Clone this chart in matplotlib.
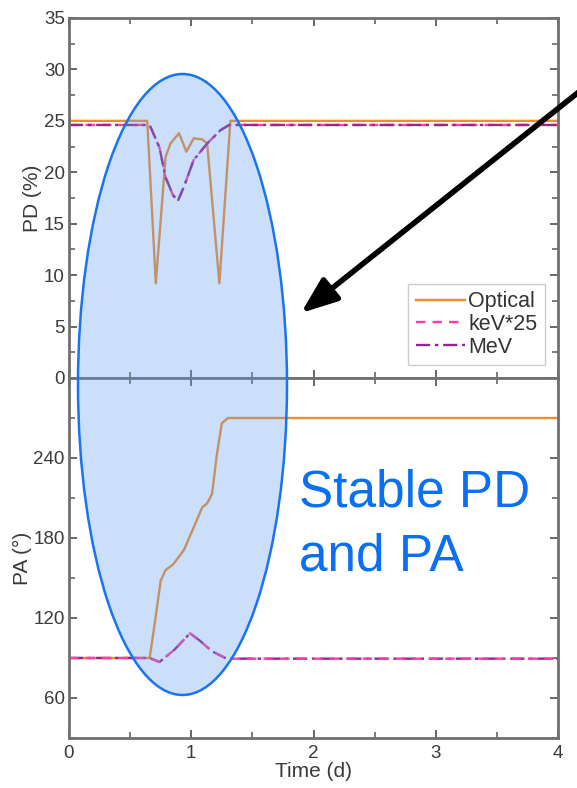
import matplotlib
matplotlib.use("Agg")
import matplotlib.pyplot as plt
from matplotlib.patches import Ellipse, FancyArrowPatch
from matplotlib.ticker import MultipleLocator

plt.rcParams['font.family'] = ['Liberation Sans', 'DejaVu Sans']

# ---- data ----
t_opt_pd = [0, 0.5, 0.64, 0.71, 0.79, 0.83, 0.90, 0.96, 1.02, 1.09, 1.13, 1.23, 1.32, 2, 3, 4]
pd_opt = [25, 25, 25, 9.2, 21.5, 22.8, 23.8, 22.0, 23.3, 23.2, 22.8, 9.2, 25, 25, 25, 25]

t_hi_pd = [0, 0.5, 0.66, 0.74, 0.79, 0.85, 0.89, 0.94, 1.02, 1.13, 1.24, 1.31, 2, 3, 4]
pd_kev = [24.6, 24.6, 24.6, 22.4, 19.5, 17.8, 17.2, 18.6, 21.2, 22.8, 24.1, 24.6, 24.6, 24.6, 24.6]
pd_mev = [24.6, 24.6, 24.6, 22.4, 19.5, 17.8, 17.2, 18.6, 21.2, 22.8, 24.1, 24.6, 24.6, 24.6, 24.6]

t_opt_pa = [0, 0.5, 0.66, 0.70, 0.75, 0.79, 0.85, 0.94, 1.02, 1.09, 1.13, 1.17, 1.21, 1.25, 1.30, 2, 3, 4]
pa_opt = [90, 90, 90, 115, 148, 156, 160, 171, 188, 203, 206, 213, 243, 266, 270, 270, 270, 270]

t_hi_pa = [0, 0.5, 0.66, 0.74, 0.86, 0.99, 1.07, 1.17, 1.29, 2, 3, 4]
pa_kev = [90, 90, 90, 87, 96, 108.5, 103, 95, 89.5, 89.5, 89.5, 89.5]
pa_mev = [90, 90, 90, 87, 96, 108.5, 103, 95, 89.5, 89.5, 89.5, 89.5]

labels = ['Optical', 'keV*25', 'MeV']
c_opt = '#f28c28'
c_kev = '#ff3caa'
c_mev = '#93278f'

W, H = 577, 788
fig = plt.figure(figsize=(W / 100, H / 100), dpi=100)
L, R = 69 / W, 558 / W
ax1 = fig.add_axes([L, 1 - 378 / H, R - L, 360 / H])
ax2 = fig.add_axes([L, 1 - 738 / H, R - L, 360 / H])

ax1.plot(t_opt_pd, pd_opt, color=c_opt, lw=1.7, label=labels[0])
ax1.plot(t_hi_pd, pd_kev, color=c_kev, lw=1.7, ls=(0, (4, 3)), label=labels[1])
ax1.plot(t_hi_pd, pd_mev, color=c_mev, lw=1.7, ls=(0, (6, 2, 1.5, 2)), label=labels[2])

ax2.plot(t_opt_pa, pa_opt, color=c_opt, lw=1.7)
ax2.plot(t_hi_pa, pa_mev, color=c_mev, lw=1.7, ls=(0, (6, 2, 1.5, 2)))
ax2.plot(t_hi_pa, pa_kev, color=c_kev, lw=1.7, ls=(0, (4, 3)))

ax1.set_xlim(0, 4)
ax1.set_ylim(0, 35)
ax2.set_xlim(0, 4)
ax2.set_ylim(30, 300)

ax1.yaxis.set_major_locator(MultipleLocator(5))
ax1.yaxis.set_minor_locator(MultipleLocator(2.5))
ax2.yaxis.set_minor_locator(MultipleLocator(30))
ax2.set_yticks([60, 120, 180, 240])
for ax in (ax1, ax2):
    ax.xaxis.set_major_locator(MultipleLocator(1))
    ax.xaxis.set_minor_locator(MultipleLocator(0.5))
    ax.tick_params(which='both', direction='in', top=True, right=True,
                   colors='#666666', labelcolor='#3a3a3a', labelsize=13.5)
    ax.tick_params(which='major', length=6, width=1.4, pad=3)
    ax.tick_params(which='minor', length=4, width=1.2)
    for s in ax.spines.values():
        s.set_color('#707070')
        s.set_linewidth(2.0)
ax1.tick_params(labelbottom=False)
ax2.tick_params(axis='x', pad=5)

ax1.set_ylabel('PD (%)', fontsize=15, color='#3a3a3a', labelpad=1)
ax2.set_ylabel('PA (°)', fontsize=15, color='#3a3a3a', labelpad=1)
ax2.set_xlabel('Time (d)', fontsize=15, color='#3a3a3a', labelpad=0)

leg = ax1.legend(loc='lower right', fontsize=15.5, frameon=True, fancybox=False,
                 handlelength=2.3, handletextpad=0.15, labelspacing=0.08,
                 borderpad=0.35, borderaxespad=0.6)
leg.get_frame().set_edgecolor('#c0c0c0')
leg.get_frame().set_linewidth(1.0)
for txt in leg.get_texts():
    txt.set_color('#333333')

# ellipse overlay
ell = Ellipse((182.5 / W, 1 - 384.5 / H), 209 / W, 621 / H,
              transform=fig.transFigure, facecolor='#5e9cf0', alpha=0.32,
              edgecolor='none', zorder=10)
fig.add_artist(ell)
ell2 = Ellipse((182.5 / W, 1 - 384.5 / H), 209 / W, 621 / H,
               transform=fig.transFigure, facecolor='none',
               edgecolor='#1a73f0', lw=1.8, zorder=11)
fig.add_artist(ell2)

arrow = FancyArrowPatch((580 / W, 1 - 91 / H), (301 / W, 1 - 313 / H),
                        transform=fig.transFigure,
                        arrowstyle='-|>,head_length=22,head_width=8.5',
                        color='black', lw=4.0, mutation_scale=1, zorder=12,
                        shrinkA=0, shrinkB=0)
fig.add_artist(arrow)

fig.text(299 / W, 1 - 493 / H, 'Stable PD', color='#0a6ff2', fontsize=37,
         ha='left', va='center')
fig.text(299 / W, 1 - 557 / H, 'and PA', color='#0a6ff2', fontsize=37,
         ha='left', va='center')

fig.savefig('out.png', dpi=100)
